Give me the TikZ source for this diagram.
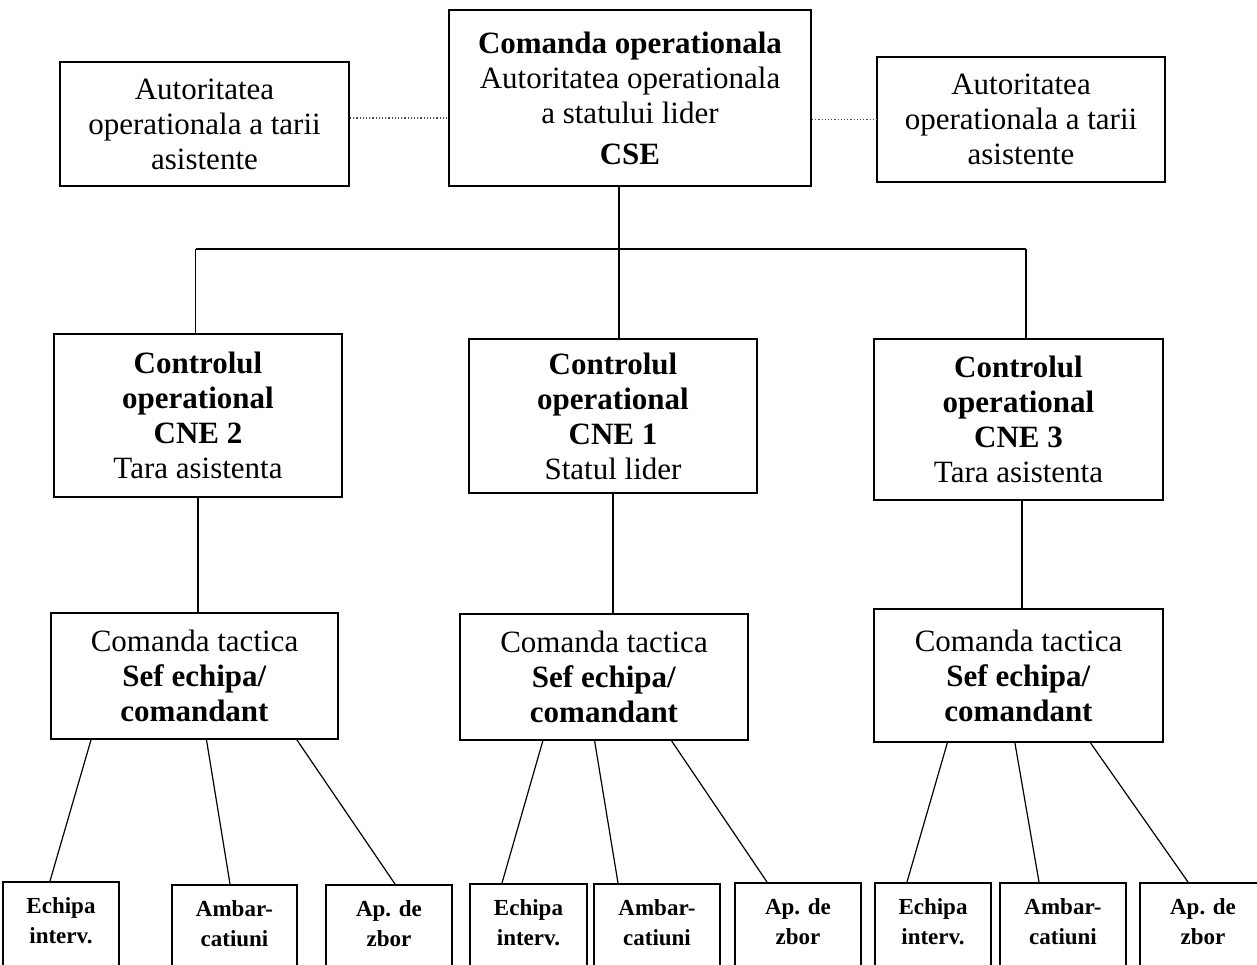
\documentclass[tikz,border=0pt]{standalone}
\usepackage{fontspec}
\setmainfont{Liberation Serif}
\usetikzlibrary{calc}
\tikzset{
	box/.style={draw, line width=0.9pt, align=center, inner sep=2pt,
		font=\fontsize{15.5}{17.5}\selectfont},
	unit/.style={draw, line width=0.9pt, align=center, anchor=north,
		inner xsep=2pt, inner ysep=8pt, text depth=40pt,
		font=\fontsize{11.5}{15}\selectfont\bfseries},
	link/.style={line width=0.6pt},
	bus/.style={line width=1pt},
	peer/.style={densely dotted, line width=0.6pt, black!70}
}

\begin{document}
\begin{tikzpicture}[x=0.5pt, y=-0.5pt]
	% 1 unit = 1 px of the sheet
	\clip (0,0) rectangle (1257,964);
	
	% top level
	\node[box, minimum width=181pt, minimum height=88pt] (cmd) at (630,98)
		{\textbf{Comanda operationala}\\Autoritatea operationala\\a statului lider\\[3pt]\textbf{CSE}};
	\node[box, minimum width=144.5pt, minimum height=62pt] (lauth) at (204.5,124)
		{Autoritatea\\operationala a tarii\\asistente};
	\node[box, minimum width=144pt, minimum height=62.5pt] (rauth) at (1021,119.5)
		{Autoritatea\\operationala a tarii\\asistente};
	
	% operational control
	\node[box, minimum width=144pt, minimum height=81.5pt] (cne2) at (198,415.5)
		{\textbf{Controlul}\\\textbf{operational}\\\textbf{CNE 2}\\Tara asistenta};
	\node[box, minimum width=144pt, minimum height=77pt] (cne1) at (613,416)
		{\textbf{Controlul}\\\textbf{operational}\\\textbf{CNE 1}\\Statul lider};
	\node[box, minimum width=144.5pt, minimum height=80.5pt] (cne3) at (1018.5,419.5)
		{\textbf{Controlul}\\\textbf{operational}\\\textbf{CNE 3}\\Tara asistenta};
	
	% tactical command
	\node[box, minimum width=143.5pt, minimum height=63pt] (tac2) at (194.5,676)
		{Comanda tactica\\\textbf{Sef echipa/}\\\textbf{comandant}};
	\node[box, minimum width=144pt, minimum height=63pt] (tac1) at (604,677)
		{Comanda tactica\\\textbf{Sef echipa/}\\\textbf{comandant}};
	\node[box, minimum width=144.5pt, minimum height=66.5pt] (tac3) at (1018.5,675.5)
		{Comanda tactica\\\textbf{Sef echipa/}\\\textbf{comandant}};
	
	% units
	\node[unit, minimum width=58pt] (ech2) at (61,881) {Echipa\\interv.};
	\node[unit, minimum width=62.5pt] (amb2) at (234.5,884) {Ambar-\\catiuni};
	\node[unit, minimum width=63pt] (apz2) at (389,884) {Ap. de\\zbor};
	\node[unit, minimum width=58.5pt] (ech1) at (528.5,883) {Echipa\\interv.};
	\node[unit, minimum width=63pt] (amb1) at (657,883) {Ambar-\\catiuni};
	\node[unit, minimum width=63pt] (apz1) at (798,882) {Ap. de\\zbor};
	\node[unit, minimum width=58pt] (ech3) at (933,882) {Echipa\\interv.};
	\node[unit, minimum width=63pt] (amb3) at (1063,882) {Ambar-\\catiuni};
	\node[unit, minimum width=63pt] (apz3) at (1203,882) {Ap. de\\zbor};
	
	% dotted links to assisting countries
	\draw[peer] ([yshift=3pt]lauth.east) -- ([yshift=3pt]lauth.east -| cmd.west);
	\draw[peer] (rauth.west -| cmd.east) -- (rauth.west);
	
	% branch lines
	\coordinate (hub) at (619,249);
	\coordinate (drop2) at ($(cne2.north)+(-2.5,0)$);
	\coordinate (drop3) at ($(cne3.north)+(7.5,0)$);
	\draw[link] (hub |- cmd.south) -- (hub |- cne1.north);
	\draw[bus] (drop2 |- hub) -- (drop3 |- hub);
	\draw[link] (drop2 |- hub) -- (drop2);
	\draw[link] (drop3 |- hub) -- (drop3);
	
	\draw[link] (cne2.south) -- (cne2.south |- tac2.north);
	\draw[link] (cne1.south) -- (cne1.south |- tac1.north);
	\draw[link] ($(cne3.south)+(3.5,0)$) -- ($(cne3.south |- tac3.north)+(3.5,0)$);
	
	% tactical command to units
	\draw[link] ([xshift=-51.75pt]tac2.south) -- ([xshift=-5.5pt]ech2.north);
	\draw[link] ([xshift=6pt]tac2.south) -- ([xshift=-2.25pt]amb2.north);
	\draw[link] ([xshift=51.2pt]tac2.south) -- ([xshift=3pt]apz2.north);
	
	\draw[link] ([xshift=-30.6pt]tac1.south) -- ([xshift=-13.25pt]ech1.north);
	\draw[link] ([xshift=-4.7pt]tac1.south) -- ([xshift=-19.5pt]amb1.north);
	\draw[link] ([xshift=33.8pt]tac1.south) -- ([xshift=-15.5pt]apz1.north);
	
	\draw[link] ([xshift=-35.6pt]tac3.south) -- ([xshift=-13pt]ech3.north);
	\draw[link] ([xshift=-1.8pt]tac3.south) -- ([xshift=-12pt]amb3.north);
	\draw[link] ([xshift=36pt]tac3.south) -- ([xshift=-7.5pt]apz3.north);
\end{tikzpicture}
\end{document}
